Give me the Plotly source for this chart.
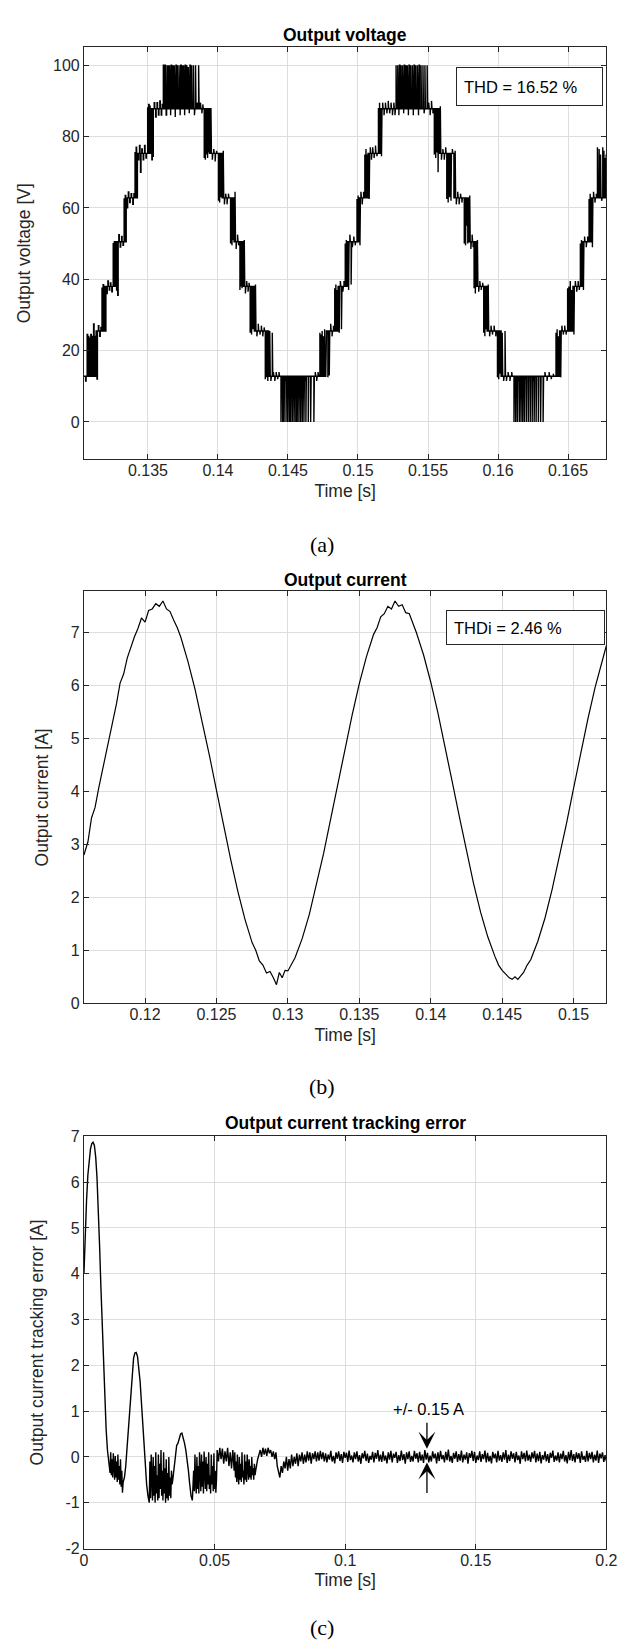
import plotly.graph_objects as go

# ===================== DATA =====================
# ---- (a) Output voltage: staircase plateaus (start time [ms], level [V]) ----
volt_plateau_ms = [130.43, 131.30, 132.00, 132.68, 133.45, 134.25, 135.20,
                   139.40, 140.30, 141.15, 141.80, 142.60, 143.62,
                   147.75, 148.58, 149.25, 150.07, 150.72, 151.60,
                   155.80, 156.85, 157.90, 158.45, 159.22, 160.22,
                   164.40, 165.35, 166.02, 166.66]
volt_plateau_v = [12.8, 25.5, 38, 50.5, 62.8, 75.3, 87.8,
                  75.3, 62.8, 50.5, 38, 25.5, 12.8,
                  25.5, 38, 50.5, 62.8, 75.3, 87.8,
                  75.3, 62.8, 50.5, 38, 25.5, 12.8,
                  25.5, 38, 50.5, 62.8]
volt_end_ms = 167.76
# switching pulses / ripple excursions: time [ms] and value reached [V]
volt_spike_ms = [
    130.55, 130.66, 130.74, 130.82, 130.92, 131.02, 131.12, 131.20,
    131.36, 131.46, 131.56, 131.64, 131.72, 131.80, 131.86, 131.93,
    132.06, 132.14, 132.24, 132.32, 132.42, 132.52, 132.60,
    132.76, 132.84, 132.92, 133.02, 133.12, 133.22, 133.30, 133.38,
    133.52, 133.60, 133.70, 133.80, 133.92, 134.00, 134.08, 134.16,
    134.32, 134.40, 134.47, 134.56, 134.66, 134.76, 134.86, 134.98, 135.05, 135.12,
    135.28, 135.35, 135.45, 135.55, 135.65, 135.75, 135.85, 135.95, 136.02,
    136.10, 136.22, 136.30, 136.34, 136.45, 136.55, 136.62, 136.66, 136.78, 136.88,
    136.95, 137.00, 137.10, 137.22, 137.30, 137.34, 137.45, 137.55, 137.62, 137.66,
    137.78, 137.88, 137.95, 138.00, 138.12, 138.25, 138.32, 138.40, 138.52, 138.62,
    138.75, 138.85, 138.92, 139.02, 139.10, 139.18, 139.26, 139.34,
    139.50, 139.60, 139.70, 139.80, 139.90, 140.04, 140.12, 140.20,
    140.38, 140.46, 140.55, 140.65, 140.75, 140.90, 141.00, 141.08,
    141.22, 141.30, 141.40, 141.48, 141.57, 141.65, 141.72,
    141.88, 141.96, 142.05, 142.15, 142.22, 142.30, 142.40, 142.50,
    142.68, 142.78, 142.88, 143.00, 143.10, 143.20, 143.30, 143.38, 143.48, 143.56,
    143.70, 143.78, 143.88, 143.96, 144.06, 144.16, 144.26, 144.36,
    144.50, 144.62, 144.72, 144.80, 144.86, 144.98, 145.10, 145.20, 145.26, 145.32,
    145.44, 145.56, 145.66, 145.72, 145.78, 145.90, 146.02, 146.14, 146.22, 146.28,
    146.45, 146.62, 146.85, 146.95, 147.05, 147.15,
    147.28, 147.36, 147.44, 147.52, 147.62, 147.70,
    147.85, 147.95, 148.05, 148.15, 148.25, 148.34, 148.42, 148.50,
    148.66, 148.74, 148.82, 148.92, 149.00, 149.09, 149.17,
    149.33, 149.42, 149.51, 149.60, 149.70, 149.80, 149.93, 150.01,
    150.14, 150.21, 150.30, 150.40, 150.49, 150.57, 150.66,
    150.80, 150.88, 150.96, 151.05, 151.15, 151.25, 151.35, 151.46, 151.54,
    151.68, 151.76, 151.86, 151.96, 152.06, 152.16, 152.26, 152.36, 152.46, 152.56, 152.64,
    152.72, 152.84, 152.92, 152.96, 153.07, 153.18, 153.26, 153.30, 153.42, 153.52,
    153.60, 153.64, 153.76, 153.88, 153.95, 154.00, 154.12, 154.24, 154.32, 154.36,
    154.50, 154.64, 154.72, 154.78, 154.94,
    155.05, 155.15, 155.25, 155.35, 155.45, 155.55, 155.64, 155.72,
    155.88, 155.96, 156.06, 156.16, 156.26, 156.34, 156.44, 156.54, 156.64, 156.74,
    156.94, 157.02, 157.12, 157.22, 157.32, 157.42, 157.59, 157.68, 157.76, 157.84,
    157.98, 158.06, 158.15, 158.22, 158.29, 158.38,
    158.53, 158.62, 158.70, 158.80, 158.90, 158.98, 159.06, 159.14,
    159.30, 159.40, 159.50, 159.60, 159.72, 159.84, 159.96, 160.05, 160.14,
    160.30, 160.40, 160.50, 160.60, 160.72, 160.85, 160.98,
    161.14, 161.26, 161.38, 161.46, 161.52, 161.64, 161.76, 161.88, 161.96, 162.02,
    162.16, 162.30, 162.44, 162.52, 162.58, 162.72, 162.88, 163.04, 163.22,
    163.35, 163.50, 163.65, 163.80, 163.95, 164.14, 164.22, 164.32,
    164.48, 164.56, 164.66, 164.76, 164.86, 164.97, 165.06, 165.16, 165.26,
    165.42, 165.52, 165.62, 165.72, 165.80, 165.88, 165.96,
    166.10, 166.18, 166.30, 166.40, 166.50, 166.58,
    166.74, 166.82, 166.92, 167.02, 167.10, 167.22, 167.32, 167.40, 167.48, 167.56, 167.64, 167.72]
volt_spike_v = [
    11.5, 24.5, 24.0, 23.5, 24.5, 24.0, 27.5, 24.0,
    12.0, 27.0, 24.0, 26.5, 37.5, 38.5, 37.0, 38.0,
    36.0, 39.5, 37.0, 39.0, 36.5, 50.0, 50.5,
    37.0, 35.5, 52.5, 49.0, 52.0, 49.5, 62.5, 63.5,
    60.0, 64.5, 61.5, 64.0, 61.0, 64.0, 75.5, 77.0,
    73.5, 77.5, 70.0, 76.5, 73.5, 77.5, 74.0, 88.0, 89.0, 88.5,
    73.5, 74.5, 89.5, 85.5, 89.5, 86.0, 90.0, 86.0, 89.0,
    100, 100, 86.0, 100, 100, 100, 86.0, 100, 100, 100,
    85.5, 100, 100, 100, 86.0, 100, 100, 100, 86.0, 100,
    100, 99.5, 86.5, 100, 100, 100, 86.0, 100, 89.5, 100,
    89.5, 86.5, 89.0, 74.0, 73.5, 75.0, 74.0, 75.5,
    88.0, 73.5, 76.5, 73.0, 76.0, 62.0, 61.5, 63.0,
    76.0, 61.0, 64.0, 61.0, 64.0, 50.0, 49.5, 51.0,
    64.5, 48.5, 52.5, 49.5, 37.0, 38.0, 37.5,
    51.0, 36.0, 39.5, 36.5, 39.0, 25.0, 24.5, 26.0,
    38.5, 24.0, 27.5, 24.5, 27.0, 24.0, 26.5, 12.0, 12.5, 11.5,
    25.5, 11.5, 25.0, 14.0, 11.5, 14.0, 12.0, 14.0,
    0, 0, 0, 11.5, 0, 0, 0, 0, 11.5, 0,
    0, 0, 0, 11.5, 0, 0, 0, 0, 11.5, 0,
    0, 0, 0, 14.0, 11.5, 14.0,
    25.0, 24.5, 25.5, 24.0, 26.0, 25.0,
    12.5, 13.0, 27.5, 24.0, 27.0, 37.5, 38.5, 37.0,
    25.0, 39.5, 26.0, 36.5, 39.5, 50.0, 51.0,
    37.0, 52.5, 38.5, 49.0, 52.0, 49.5, 62.5, 63.5,
    49.5, 64.5, 61.0, 64.5, 75.0, 76.5, 75.0,
    62.5, 77.0, 73.5, 77.0, 74.0, 77.5, 74.5, 88.0, 89.5,
    74.5, 89.5, 86.0, 89.5, 86.5, 90.0, 86.5, 89.5, 86.0, 89.5, 86.0,
    100, 100, 86.0, 100, 100, 100, 86.5, 100, 100, 100,
    86.0, 100, 100, 100, 86.0, 100, 100, 100, 86.0, 100,
    100, 100, 86.5, 100, 100,
    89.5, 86.0, 90.0, 86.5, 75.0, 74.0, 75.5, 70.0,
    88.5, 73.5, 76.5, 73.5, 77.0, 62.5, 61.5, 63.0, 62.0, 76.5,
    76.0, 61.0, 64.5, 61.0, 64.0, 61.5, 50.0, 49.5, 55.0, 50.0,
    63.5, 48.5, 52.5, 49.0, 37.5, 36.0,
    51.0, 36.5, 39.5, 37.0, 39.0, 25.0, 24.0, 26.0,
    38.5, 24.0, 27.0, 24.5, 27.0, 24.0, 12.5, 12.0, 13.5,
    25.0, 11.5, 25.5, 11.5, 14.0, 11.5, 14.0,
    0, 0, 0, 11.5, 0, 0, 0, 0, 12.0, 0,
    0, 0, 0, 11.5, 0, 0, 0, 0, 0,
    14.0, 11.5, 14.0, 12.0, 13.5, 25.0, 26.0, 24.0,
    12.5, 27.0, 24.5, 27.0, 24.5, 37.5, 38.0, 39.5, 37.0,
    24.5, 39.5, 36.5, 39.5, 37.0, 50.0, 51.0,
    37.0, 52.0, 49.0, 52.0, 62.5, 64.0,
    49.0, 64.5, 61.5, 64.0, 77.0, 76.5, 75.0, 62.0, 77.0, 76.0, 74.0, 75.0]
volt_pulse_width_ms = 0.035

# ---- (b) Output current: time [ms], current [A] ----
cur_t_ms = [115.72, 116.0, 116.25, 116.5, 116.75, 117.0, 117.25, 117.5, 117.75, 118.0,
            118.25, 118.5, 118.75, 119.0, 119.25, 119.5, 119.75, 120.0, 120.25, 120.5,
            120.75, 121.0, 121.25, 121.5, 121.75, 122.0, 122.25, 122.5, 123.0, 123.5,
            124.0, 124.5, 125.0, 125.5, 126.0, 126.5, 127.0, 127.5, 127.75, 128.0,
            128.25, 128.5, 128.75, 129.0, 129.2, 129.4, 129.6, 129.8, 130.0, 130.5,
            131.0, 131.5, 132.0, 132.5, 133.0, 133.5, 134.0, 134.5, 135.0, 135.5,
            136.0, 136.25, 136.5, 136.75, 137.0, 137.25, 137.5, 137.75, 138.0, 138.25,
            138.5, 139.0, 139.5, 140.0, 140.5, 141.0, 141.5, 142.0, 142.5, 143.0,
            143.5, 144.0, 144.5, 144.75, 145.0, 145.25, 145.5, 145.7, 145.9, 146.1,
            146.3, 146.5, 146.75, 147.0, 147.5, 148.0, 148.5, 149.0, 149.5, 150.0,
            150.5, 151.0, 151.5, 152.0, 152.3]
cur_a = [2.80, 3.05, 3.50, 3.70, 4.06, 4.38, 4.70, 5.05, 5.38, 5.66,
         6.05, 6.22, 6.52, 6.74, 6.92, 7.08, 7.28, 7.20, 7.42, 7.45,
         7.55, 7.50, 7.60, 7.45, 7.40, 7.24, 7.10, 6.92, 6.46, 5.93,
         5.33, 4.69, 4.02, 3.35, 2.71, 2.11, 1.58, 1.14, 1.00, 0.80,
         0.72, 0.57, 0.60, 0.47, 0.35, 0.58, 0.48, 0.62, 0.61, 0.86,
         1.22, 1.68, 2.23, 2.83, 3.49, 4.16, 4.82, 5.45, 6.04, 6.55,
         6.97, 7.10, 7.30, 7.36, 7.50, 7.45, 7.60, 7.50, 7.53, 7.38,
         7.36, 7.00, 6.58, 6.07, 5.49, 4.86, 4.19, 3.53, 2.87, 2.26,
         1.71, 1.25, 0.88, 0.72, 0.62, 0.55, 0.48, 0.45, 0.50, 0.45,
         0.52, 0.58, 0.72, 0.82, 1.17, 1.61, 2.15, 2.75, 3.39, 4.06,
         4.73, 5.37, 5.96, 6.49, 6.76]

# ---- (c) Output current tracking error, by segment: start [ms], step [ms], values [A] ----
err_seg_start_ms = [0.0, 10.0, 15.0, 25.0, 34.0, 42.0, 51.0, 57.5, 66.0, 74.0, 77.5, 92.5]
err_seg_step_ms = [0.5, 0.25, 0.5, 0.25, 0.5, 0.25, 0.5, 0.25, 0.5, 0.5, 0.5, 0.5]
err_seg_a = [4.0, 4.9, 5.6, 6.15, 6.5, 6.72, 6.84, 6.87, 6.8, 6.55, 6.1, 5.45, 4.6, 3.7, 2.8, 2.0, 1.25, 0.6, 0.15, -0.1]
err_seg_b = [-0.35, 0.1, -0.4, -0.05, -0.45, 0.08, -0.3, -0.5, 0.02, -0.45,
             -0.1, -0.55, 0.05, -0.5, -0.2, -0.6, -0.05, -0.65, -0.3, -0.78]
err_seg_c = [-0.55, -0.45, -0.2, 0.2, 0.65, 1.1, 1.55, 1.9, 2.15, 2.27, 2.28, 2.2, 1.98, 1.65, 1.2, 0.7, 0.2, -0.25, -0.6, -0.85]
err_seg_d = [-1.0, -0.1, -0.9, 0.05, -0.7, -0.95, 0.0, -0.85, -0.2, -1.0,
             0.1, -0.8, -0.4, -0.95, 0.05, -0.9, -0.15, -0.7, 0.15, -0.85,
             -0.3, -0.95, 0.1, -0.8, -0.25, -1.0, -0.05, -0.9, -0.35, -0.95,
             0.0, -0.85, -0.45, -0.9, -0.3, -0.6]
err_seg_e = [-0.5, -0.2, 0.1, 0.25, 0.3, 0.42, 0.5, 0.52, 0.42, 0.3, 0.15, -0.05, -0.3, -0.6, -0.85, -0.95]
err_seg_f = [-0.3, -0.75, 0.05, -0.6, -0.8, 0.0, -0.7, -0.2, -0.8, 0.1,
             -0.55, -0.75, 0.05, -0.65, -0.1, -0.8, 0.12, -0.5, -0.7, 0.0,
             -0.75, -0.15, -0.6, 0.1, -0.7, -0.4, -0.8, 0.05, -0.6, -0.2,
             -0.75, 0.08, -0.7, -0.3, -0.78, -0.5]
err_seg_g = [0.15, -0.1, 0.2, -0.05, 0.18, -0.15, 0.12, -0.1, 0.2, -0.2, 0.1, -0.25, 0.15]
err_seg_h = [-0.3, 0.1, -0.45, -0.1, -0.55, 0.05, -0.4, -0.6, 0.0, -0.5,
             -0.15, -0.55, 0.1, -0.45, -0.3, -0.6, 0.05, -0.5, -0.1, -0.55,
             0.05, -0.4, -0.5, -0.05, -0.45, -0.2, -0.5, 0.0, -0.4, -0.25,
             -0.5, -0.15, -0.4, -0.3]
err_seg_i = [-0.2, -0.05, 0.05, 0.15, 0.0, 0.2, 0.05, 0.18, 0.02, 0.2, 0.08, 0.15, 0.0, 0.12, -0.05, 0.1]
err_seg_j = [-0.2, -0.3, -0.45, -0.2, -0.35, -0.1, -0.25]
err_seg_k = [0.0, -0.3, -0.05, -0.25, 0.05, -0.2, 0.0, -0.15, 0.08, -0.2, 0.05, -0.1, 0.1, -0.15, 0.05,
             -0.12, 0.12, -0.08, 0.1, -0.15, 0.08, -0.05, 0.12, -0.1, 0.1, -0.08, 0.13, -0.05, 0.1, -0.1]
err_seg_l = [
    0.08, -0.12, 0.05, -0.06, 0.13, -0.1, 0.02, -0.14, 0.1, -0.04, 0.12, -0.09,
    0.06, -0.13, 0.11, -0.02, 0.09, -0.11, 0.14, -0.07, 0.03, -0.12, 0.1, -0.05,
    0.12, -0.1, 0.04, -0.15, 0.08, -0.03, 0.13, -0.09, 0.07, -0.13, 0.02, -0.06,
    0.11, -0.12, 0.09, -0.04, 0.15, -0.1, 0.05, -0.11, 0.12, -0.08, 0.03, -0.14,
    0.1, -0.06, 0.13, -0.12, 0.07, -0.02, 0.11, -0.13, 0.04, -0.09, 0.14, -0.07,
    0.06, -0.15, 0.1, -0.05, 0.12, -0.11, 0.02, -0.1, 0.13, -0.04, 0.08, -0.12,
    0.11, -0.08, 0.05, -0.13, 0.15, -0.06, 0.09, -0.12, 0.03, -0.1, 0.12, -0.03,
    0.07, -0.14, 0.1, -0.09, 0.13, -0.05, 0.04, -0.12, 0.11, -0.07, 0.16, -0.1,
    0.02, -0.13, 0.09, -0.04, 0.12, -0.11, 0.06, -0.08, 0.14, -0.12, 0.05, -0.06,
    0.1, -0.15, 0.08, -0.02, 0.13, -0.09, 0.11, -0.13, 0.03, -0.07, 0.12, -0.11,
    0.06, -0.05, 0.14, -0.12, 0.09, -0.1, 0.02, -0.14, 0.11, -0.03, 0.07, -0.12,
    0.13, -0.08, 0.04, -0.11, 0.1, -0.06, 0.15, -0.13, 0.05, -0.09, 0.12, -0.04,
    0.08, -0.12, 0.11, -0.07, 0.03, -0.15, 0.12, -0.05, 0.09, -0.1, 0.14, -0.08,
    0.05, -0.11, 0.1, -0.03, 0.13, -0.12, 0.07, -0.09, 0.11, -0.14, 0.04, -0.06,
    0.12, -0.1, 0.06, -0.13, 0.09, -0.02, 0.14, -0.11, 0.03, -0.08, 0.1, -0.12,
    0.07, -0.05, 0.13, -0.1, 0.04, -0.14, 0.11, -0.07, 0.15, -0.09, 0.06, -0.12,
    0.1, -0.04, 0.08, -0.13, 0.12, -0.06, 0.02, -0.11, 0.13, -0.1, 0.09, -0.05,
    0.11, -0.12, 0.05, -0.08, 0.14, -0.13, 0.07, -0.03, 0.1, -0.11, 0.04, -0.09]

# ---- tick labels ----
a_xticks = [0.135, 0.14, 0.145, 0.15, 0.155, 0.16, 0.165]
a_xtext = ["0.135", "0.14", "0.145", "0.15", "0.155", "0.16", "0.165"]
a_yticks = [0, 20, 40, 60, 80, 100]
b_xticks = [0.12, 0.125, 0.13, 0.135, 0.14, 0.145, 0.15]
b_xtext = ["0.12", "0.125", "0.13", "0.135", "0.14", "0.145", "0.15"]
b_yticks = [0, 1, 2, 3, 4, 5, 6, 7]
c_xticks = [0, 0.05, 0.1, 0.15, 0.2]
c_xtext = ["0", "0.05", "0.1", "0.15", "0.2"]
c_yticks = [-2, -1, 0, 1, 2, 3, 4, 5, 6, 7]
c_ytext = ["-2", "-1", "0", "1", "2", "3", "4", "5", "6", "7"]

# ===================== BUILD TRACES =====================
events = [(t, 0, v) for t, v in zip(volt_plateau_ms[1:], volt_plateau_v[1:])]
events += [(t, 1, v) for t, v in zip(volt_spike_ms, volt_spike_v)]
events.sort()
vx, vy = [volt_plateau_ms[0]], [volt_plateau_v[0]]
base = volt_plateau_v[0]
for t, kind, v in events:
    if kind == 0:
        vx += [t, t]
        vy += [base, v]
        base = v
    else:
        w = volt_pulse_width_ms
        vx += [t, t, t + w, t + w]
        vy += [base, v, v, base]
vx.append(volt_end_ms)
vy.append(base)
vx_s = [t / 1000.0 for t in vx]

cur_t_s = [t / 1000.0 for t in cur_t_ms]

err_segs = [err_seg_a, err_seg_b, err_seg_c, err_seg_d, err_seg_e, err_seg_f,
            err_seg_g, err_seg_h, err_seg_i, err_seg_j, err_seg_k, err_seg_l]
err_t_s, err_v = [], []
for t0, dt, seg in zip(err_seg_start_ms, err_seg_step_ms, err_segs):
    for i, v in enumerate(seg):
        err_t_s.append((t0 + i * dt) / 1000.0)
        err_v.append(v)

# ===================== LAYOUT =====================
FW, FH = 626, 1646
X0, X1 = 73.7, 609.0
PA = (31.7, 447.7)
PB = (581.5, 997.5)
PC = (1132.0, 1548.5)


def xp(px):
    return px / FW


def yp(px):
    return 1 - px / FH


SANS = "Liberation Sans, Arial, Helvetica, sans-serif"
SERIF = "Liberation Serif, Times New Roman, serif"
AXC = "#262626"
TITLE_FONT = dict(family=SANS, size=17.5, color=AXC)


def axis(**kw):
    d = dict(showline=True, linecolor=AXC, linewidth=1, mirror="ticks",
             ticks="inside", ticklen=5, tickwidth=1, tickcolor=AXC,
             showgrid=True, gridcolor="#dedede", gridwidth=1, zeroline=False,
             tickfont=dict(family=SANS, size=16, color=AXC), fixedrange=True)
    d.update(kw)
    return d


def xaxis(**kw):
    return axis(ticklabelstandoff=-3,
                title=dict(text="Time [s]", standoff=6, font=TITLE_FONT), **kw)


def yaxis(title, **kw):
    return axis(title=dict(text=title, standoff=17, font=TITLE_FONT), **kw)


fig = go.Figure()
fig.add_trace(go.Scatter(x=vx_s, y=vy, mode="lines", line=dict(color="black", width=1.4),
                         xaxis="x", yaxis="y", showlegend=False, hoverinfo="skip"))
fig.add_trace(go.Scatter(x=cur_t_s, y=cur_a, mode="lines", line=dict(color="black", width=1.2),
                         xaxis="x2", yaxis="y2", showlegend=False, hoverinfo="skip"))
fig.add_trace(go.Scatter(x=err_t_s, y=err_v, mode="lines", line=dict(color="black", width=1.4),
                         xaxis="x3", yaxis="y3", showlegend=False, hoverinfo="skip"))

xdom = [xp(X0), xp(X1)]
fig.update_layout(
    width=FW, height=FH, margin=dict(l=0, r=0, t=0, b=0),
    paper_bgcolor="white", plot_bgcolor="white", showlegend=False,
    xaxis=xaxis(domain=xdom, anchor="y", range=[0.13043, 0.16774],
                tickvals=a_xticks, ticktext=a_xtext),
    yaxis=yaxis("Output voltage [V]", domain=[yp(PA[1]), yp(PA[0])], anchor="x",
                range=[-10.4, 105], tickvals=a_yticks),
    xaxis2=xaxis(domain=xdom, anchor="y2", range=[0.11572, 0.1523],
                 tickvals=b_xticks, ticktext=b_xtext),
    yaxis2=yaxis("Output current [A]", domain=[yp(PB[1]), yp(PB[0])], anchor="x2",
                 range=[0, 7.78], tickvals=b_yticks),
    xaxis3=xaxis(domain=xdom, anchor="y3", range=[0, 0.2],
                 tickvals=c_xticks, ticktext=c_xtext),
    yaxis3=yaxis("Output current tracking error [A]", domain=[yp(PC[1]), yp(PC[0])], anchor="x3",
                 range=[-2, 7], tickvals=c_yticks, ticktext=c_ytext),
)

xc = xp((X0 + X1) / 2)
ann = []
for ty, txt in [(19.0, "Output voltage"), (569.4, "Output current"), (1119.0, "Output current tracking error")]:
    ann.append(dict(xref="paper", yref="paper", x=xc, y=yp(ty), xanchor="center", yanchor="middle",
                    text="<b>%s</b>" % txt, showarrow=False,
                    font=dict(family=SANS, size=17.5, color="black")))
for cy, txt in [(533.6, "(a)"), (1082.0, "(b)"), (1628.0, "(c)")]:
    ann.append(dict(xref="paper", yref="paper", x=xp(318), y=yp(cy), xanchor="center", yanchor="middle",
                    text=txt, showarrow=False, font=dict(family=SERIF, size=22, color="black")))
ann.append(dict(xref="paper", yref="paper", x=xp(454.7), y=yp(51.8), xanchor="left", yanchor="top",
                text="THD = 16.52 %", showarrow=False, align="left", valign="middle",
                width=131, height=23, borderpad=7, bordercolor=AXC, borderwidth=1, bgcolor="white",
                font=dict(family=SANS, size=16.5, color="black")))
ann.append(dict(xref="paper", yref="paper", x=xp(444.3), y=yp(600.7), xanchor="left", yanchor="top",
                text="THDi = 2.46 %", showarrow=False, align="left", valign="middle",
                width=143, height=19, borderpad=7, bordercolor=AXC, borderwidth=1, bgcolor="white",
                font=dict(family=SANS, size=16.5, color="black")))
ann.append(dict(xref="x3", yref="y3", x=0.132, y=1.05, text="+/- 0.15 A", showarrow=False,
                xanchor="center", yanchor="middle", font=dict(family=SANS, size=16.5, color="black")))
ann.append(dict(xref="x3", yref="y3", x=0.1313, y=0.18, axref="x3", ayref="y3", ax=0.1313, ay=0.78,
                text="", showarrow=True, arrowhead=3, arrowsize=2.2, arrowwidth=1.3, arrowcolor="black"))
ann.append(dict(xref="x3", yref="y3", x=0.1313, y=-0.12, axref="x3", ayref="y3", ax=0.1313, ay=-0.82,
                text="", showarrow=True, arrowhead=3, arrowsize=2.2, arrowwidth=1.3, arrowcolor="black"))
fig.update_layout(annotations=ann)

fig.write_html("out.html")
